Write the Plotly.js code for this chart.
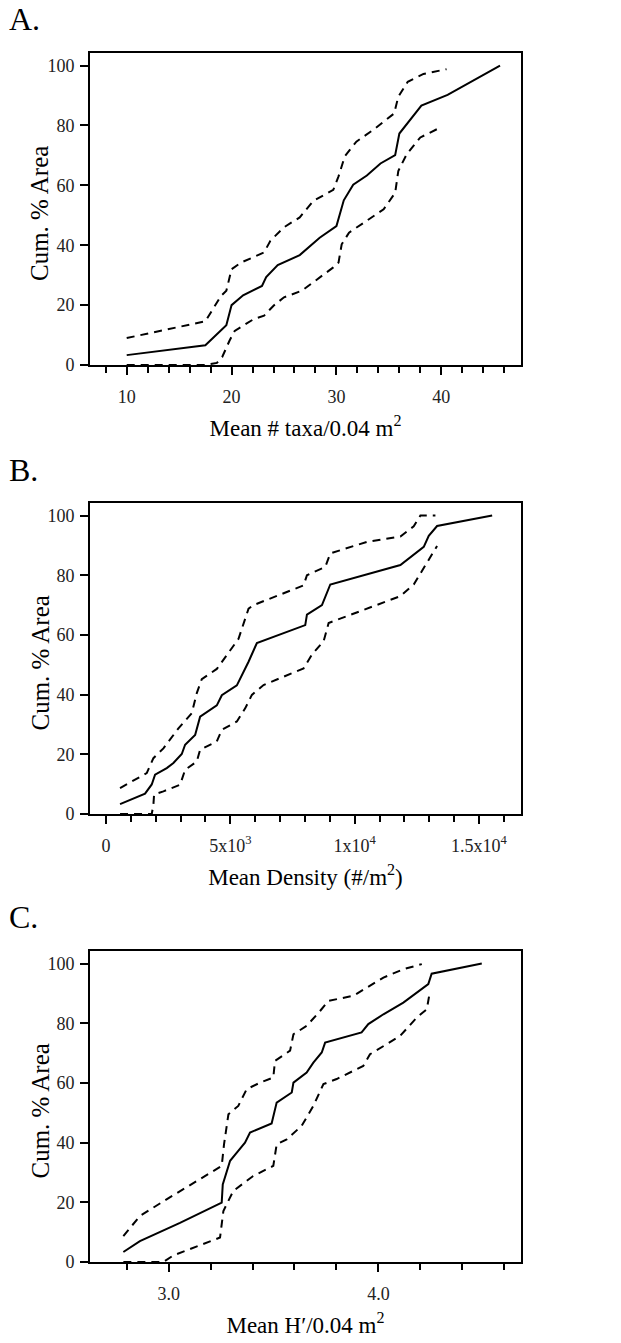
<!DOCTYPE html>
<html>
<head>
<meta charset="utf-8">
<script src="https://cdn.plot.ly/plotly-3.0.1.min.js"></script>
<style>html,body{margin:0;padding:0;background:#fff;}#chart{width:621px;height:1343px;}</style>
</head>
<body>
<div id="chart"></div>
<script>
// ---- Panel A: Mean # taxa / 0.04 m2 ----
const taxaMeanX  = [10, 17.5, 19.5, 20, 21.1, 22.9, 23.3, 24.4, 26.5, 28.4, 30, 30.7, 31.6, 32.9, 34.2, 35.6, 36.0, 36.6, 38.1, 40.6, 45.6];
const taxaMeanY  = [3.3, 6.6, 13.3, 20, 23.3, 26.4, 29.4, 33.4, 36.7, 42.5, 46.4, 55, 60.2, 63.3, 67.3, 70.1, 77.3, 80, 86.6, 90.2, 100];
const taxaUpperX = [10, 17.5, 19.0, 19.5, 20, 20.9, 23.1, 23.7, 25, 26.5, 27.8, 29.7, 30.2, 30.8, 31.9, 33.5, 35.5, 35.9, 36.8, 38.3, 40.5];
const taxaUpperY = [9.0, 14.6, 23.1, 24.8, 32, 34.2, 37.6, 41.5, 46, 49.3, 54.8, 58.5, 63, 69.7, 74.6, 78.5, 84, 89.6, 94.6, 97.2, 98.8];
const taxaLowerX = [10, 17.5, 18.6, 19.1, 19.8, 20.3, 22.1, 23.1, 24, 25, 26.7, 28.5, 29.7, 30.2, 30.5, 31.2, 32.6, 34.5, 35.6, 35.9, 36.7, 38, 39.9];
const taxaLowerY = [0, 0, 0.7, 2.6, 8.1, 11.4, 15.3, 16.5, 19.8, 22.6, 24.8, 29.3, 32.6, 34.2, 40.3, 44.2, 47.5, 52, 57.5, 64.8, 70.4, 76, 79.3];

// ---- Panel B: Mean Density (#/m2) ----
const densMeanX  = [564, 1570, 1839, 1973, 2443, 2711, 3047, 3181, 3584, 3785, 4456, 4658, 5262, 5463, 5732, 6067, 8013, 8081, 8685, 9020, 10497, 11839, 12779, 12980, 13315, 15530];
const densMeanY  = [3.3, 6.8, 9.9, 13.2, 15.4, 17.1, 20.1, 23.2, 26.5, 32.6, 36.4, 39.8, 43.1, 46.5, 51, 57.3, 63.3, 66.8, 70, 76.9, 80.3, 83.4, 89.5, 93.2, 96.5, 100];
const densUpperX = [564, 1638, 1906, 2309, 2913, 3450, 3651, 3852, 4456, 4859, 5329, 5732, 5933, 7946, 8081, 8819, 9020, 10497, 11839, 12376, 12644, 13248];
const densUpperY = [8.7, 13.7, 18.7, 22, 28.7, 33.8, 40.5, 45.2, 48.6, 53.1, 58.7, 68.8, 70, 76.6, 80, 82.8, 87.3, 91.2, 93, 96.4, 100, 100];
const densLowerX = [564, 1570, 1839, 1906, 1933, 2309, 2980, 3181, 3651, 3785, 4456, 4658, 5262, 5597, 5866, 6336, 7946, 8282, 8752, 8953, 10228, 11839, 12376, 12846, 13315];
const densLowerY = [0, 0, 0, 3.1, 6.5, 7.6, 9.8, 14.8, 17.6, 21.5, 24.3, 28.2, 31, 35.4, 39.9, 43.2, 48.8, 53.4, 57.9, 64, 68, 73, 76.9, 83.6, 89.8];

// ---- Panel C: Mean H' / 0.04 m2 ----
const divMeanX  = [2.784, 2.863, 3.054, 3.149, 3.253, 3.258, 3.293, 3.324, 3.364, 3.388, 3.491, 3.515, 3.587, 3.595, 3.658, 3.69, 3.73, 3.746, 3.92, 3.952, 4.024, 4.119, 4.183, 4.238, 4.254, 4.493];
const divMeanY  = [3.35, 7.0, 13.1, 16.4, 19.9, 26, 33.9, 36.6, 40, 43.4, 46.4, 53.4, 56.8, 60.1, 63.5, 66.8, 70.2, 73.5, 76.9, 79.7, 83, 86.9, 90.3, 93.1, 96.6, 100];
const divUpperX = [2.784, 2.863, 2.99, 3.253, 3.264, 3.285, 3.332, 3.372, 3.436, 3.499, 3.507, 3.579, 3.595, 3.658, 3.722, 3.762, 3.881, 3.944, 4.024, 4.119, 4.207];
const divUpperY = [8.7, 15.4, 21, 32.2, 39.4, 49.5, 52.3, 57.9, 60.1, 61.8, 67.4, 70.8, 76.3, 79.1, 84.1, 87.5, 89.2, 92, 95.3, 98.1, 99.8];
const divLowerX = [2.784, 2.975, 3.022, 3.245, 3.261, 3.308, 3.403, 3.499, 3.515, 3.563, 3.634, 3.69, 3.738, 3.801, 3.928, 3.96, 4.103, 4.183, 4.231, 4.246];
const divLowerY = [0, 0, 2.2, 8.2, 17.1, 23.8, 28.8, 32.2, 39.4, 41.1, 45.6, 52.3, 59.6, 61.3, 65.7, 69.6, 75.7, 81.9, 84.7, 90.8];

// tick labels
const taxaTickVals = [10, 20, 30, 40];
const taxaTickText = ['10', '20', '30', '40'];
const densTickVals = [0, 5000, 10000, 15000];
const densTickText = ['0', '5x10<sup>3</sup>', '1x10<sup>4</sup>', '1.5x10<sup>4</sup>'];
const divTickVals = [3.0, 4.0];
const divTickText = ['3.0', '4.0'];
const yTickVals = [0, 20, 40, 60, 80, 100];

const panelLabels = ['A.', 'B.', 'C.'];
const xTitles = ['Mean # taxa/0.04 m<sup>2</sup>', 'Mean Density (#/m<sup>2</sup>)', 'Mean H\u2032/0.04 m<sup>2</sup>'];
const yTitle = 'Cum. % Area';

const FONT = 'Liberation Serif, Times New Roman, serif';
const W = 621, H = 1343;
const solid = {color: '#000', width: 2};
const dashed = {color: '#000', width: 2, dash: '8px,6px'};

function tr(x, y, line, ax) {
  return {x: x, y: y, type: 'scatter', mode: 'lines', line: line,
          xaxis: 'x' + ax, yaxis: 'y' + ax, hoverinfo: 'skip', showlegend: false};
}

const data = [
  tr(taxaLowerX, taxaLowerY, dashed, ''), tr(taxaUpperX, taxaUpperY, dashed, ''), tr(taxaMeanX, taxaMeanY, solid, ''),
  tr(densLowerX, densLowerY, dashed, '2'), tr(densUpperX, densUpperY, dashed, '2'), tr(densMeanX, densMeanY, solid, '2'),
  tr(divLowerX, divLowerY, dashed, '3'), tr(divUpperX, divUpperY, dashed, '3'), tr(divMeanX, divMeanY, solid, '3')
];

// plot boxes in pixels: [top, bottom]
const boxes = [[53, 365], [503, 814], [951, 1262]];
const xLeft = 90, xRight = 521;
const xdom = [xLeft / W, xRight / W];

function xAxis(i, range, tv, tt, minorDtick, minorTick0, anchor) {
  return {
    domain: xdom, range: range, anchor: anchor,
    tickmode: 'array', tickvals: tv, ticktext: tt,
    ticks: 'outside', ticklen: 8, tickwidth: 2, tickcolor: '#000',
    minor: {dtick: minorDtick, tick0: minorTick0, ticks: 'outside', ticklen: 6, tickwidth: 2, tickcolor: '#000', showgrid: false},
    showline: true, linewidth: 2, linecolor: '#000', mirror: true,
    showgrid: false, zeroline: false,
    ticklabelstandoff: 6,
    tickfont: {family: FONT, size: 18, color: '#222'},
    title: {text: xTitles[i], standoff: 14, font: {family: FONT, size: 23, color: '#000'}}
  };
}
function yAxis(i, anchor) {
  const b = boxes[i];
  return {
    domain: [1 - b[1] / H, 1 - b[0] / H], range: [0, 104.2], anchor: anchor,
    tickmode: 'array', tickvals: yTickVals,
    ticks: 'outside', ticklen: 8, tickwidth: 2, tickcolor: '#000',
    showline: true, linewidth: 2, linecolor: '#000', mirror: true,
    showgrid: false, zeroline: false,
    ticklabelstandoff: 2,
    tickfont: {family: FONT, size: 18, color: '#222'}
  };
}

const annotations = [];
const labelY = [19, 470, 917];
for (let i = 0; i < 3; i++) {
  const b = boxes[i];
  annotations.push({text: panelLabels[i], xref: 'paper', yref: 'paper', x: 7 / W, y: 1 - labelY[i] / H,
    xanchor: 'left', yanchor: 'middle', showarrow: false, font: {family: FONT, size: 32, color: '#000'}});
  annotations.push({text: yTitle, xref: 'paper', yref: 'paper', x: 40 / W, y: 1 - ((b[0] + b[1]) / 2 + 5) / H,
    xanchor: 'center', yanchor: 'middle', textangle: -90, showarrow: false, font: {family: FONT, size: 25, color: '#000'}});
}

const layout = {
  width: W, height: H,
  margin: {l: 0, r: 0, t: 0, b: 0},
  paper_bgcolor: '#fff', plot_bgcolor: '#fff',
  showlegend: false,
  xaxis: xAxis(0, [6.5, 47.6], taxaTickVals, taxaTickText, 2, 0, 'y'),
  yaxis: yAxis(0, 'x'),
  xaxis2: xAxis(1, [-644, 16690], densTickVals, densTickText, 1000, 0, 'y2'),
  yaxis2: yAxis(1, 'x2'),
  xaxis3: xAxis(2, [2.625, 4.68], divTickVals, divTickText, 0.2, 2.8, 'y3'),
  yaxis3: yAxis(2, 'x3'),
  annotations: annotations
};

Plotly.newPlot('chart', data, layout, {staticPlot: true, displayModeBar: false});
</script>
</body>
</html>
